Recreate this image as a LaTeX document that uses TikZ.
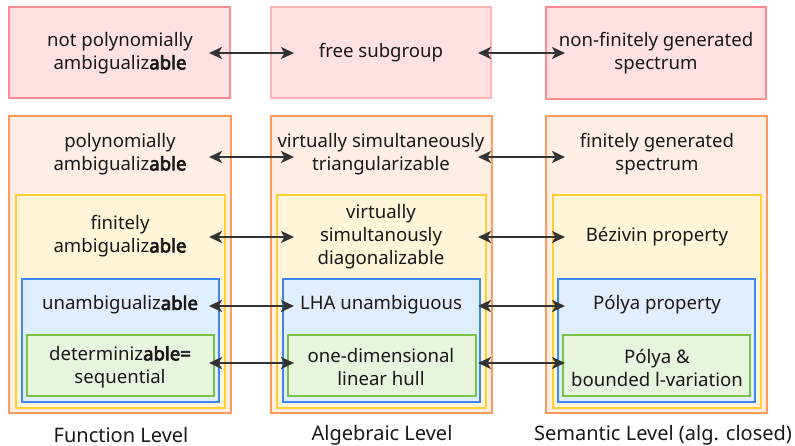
\documentclass[tikz,border=0pt]{standalone}
\usepackage{fontspec}
\setmainfont{Noto Sans}[BoldFont={Noto Sans},BoldFeatures={FakeBold=3.5}]
\usetikzlibrary{arrows.meta,fit}

\definecolor{redline}{HTML}{FF8A8F}
\definecolor{pinkline}{HTML}{FFB3B5}
\definecolor{redfill}{HTML}{FFE1E3}
\definecolor{orangeline}{HTML}{FF9A5C}
\definecolor{orangefill}{HTML}{FFEEE3}
\definecolor{yellowline}{HTML}{FFCF33}
\definecolor{yellowfill}{HTML}{FFF5D8}
\definecolor{blueline}{HTML}{3A87F5}
\definecolor{bluefill}{HTML}{E1EEFD}
\definecolor{greenline}{HTML}{79C447}
\definecolor{greenfill}{HTML}{E7F4DE}
\definecolor{arrowgray}{HTML}{333333}

\begin{document}
\begin{tikzpicture}[x=1pt,y=-1pt,line width=2pt]
    \tikzstyle{region}=[rectangle, inner sep=0pt]
    \tikzstyle{txt}=[align=center, inner sep=0pt, font=\fontsize{18.6}{23}\selectfont, text=black!90]
    \tikzstyle{levellabel}=[inner sep=0pt, font=\fontsize{20}{24}\selectfont, text=black!90]
    \tikzstyle{link}=[{Stealth[length=13pt,width=12pt,inset=3.5pt]}-{Stealth[length=13pt,width=12pt,inset=3.5pt]}, draw=arrowgray, line width=2.4pt]
    \useasboundingbox (0,0) rectangle (795,446);

    % top row
    \node [region, draw=redline, fill=redfill, fit={(9,7) (230,98)}] (fnot) {};
    \node [region, draw=pinkline, fill=redfill, fit={(271,7) (491,98)}] (anot) {};
    \node [region, draw=redline, fill=redfill, fit={(546,7) (766,99)}] (snot) {};

    % nested levels
    \node [region, draw=orangeline, fill=orangefill, fit={(9,116) (231,413)}] (fpoly) {};
    \node [region, draw=orangeline, fill=orangefill, fit={(271,116) (492,413)}] (apoly) {};
    \node [region, draw=orangeline, fill=orangefill, fit={(546,116) (767,413)}] (spoly) {};

    \node [region, draw=yellowline, fill=yellowfill, fit={(16,195) (225,408)}] (ffin) {};
    \node [region, draw=yellowline, fill=yellowfill, fit={(277,195) (486,408)}] (afin) {};
    \node [region, draw=yellowline, fill=yellowfill, fit={(553,195) (761,408)}] (sfin) {};

    \node [region, draw=blueline, fill=bluefill, fit={(22,279) (219,402)}] (funa) {};
    \node [region, draw=blueline, fill=bluefill, fit={(283,279) (480,402)}] (auna) {};
    \node [region, draw=blueline, fill=bluefill, fit={(558,279) (755,402)}] (suna) {};

    \node [region, draw=greenline, fill=greenfill, fit={(27,335) (214,396)}] (fdet) {};
    \node [region, draw=greenline, fill=greenfill, fit={(288,335) (476,396)}] (adet) {};
    \node [region, draw=greenline, fill=greenfill, fit={(563,335) (750,396)}] (sdet) {};

    % texts
    \node [txt] (fnot-t) at (120,53) {not polynomially\\ambigualiz\textbf{able}};
    \node [txt] (anot-t) at (381,53) {free subgroup};
    \node [txt] (snot-t) at (656,53) {non-finitely generated\\spectrum};

    \node [txt] (fpoly-t) at (120,154) {polynomially\\ambigualiz\textbf{able}};
    \node [txt] (apoly-t) at (381,154) {virtually simultaneously\\triangularizable};
    \node [txt] (spoly-t) at (657,154) {finitely generated\\spectrum};

    \node [txt] (ffin-t) at (120,236) {finitely\\ambigualiz\textbf{able}};
    \node [txt] (afin-t) at (381,237) {virtually\\simultanously\\diagonalizable};
    \node [txt] (sfin-t) at (657,237) {Bézivin property};

    \node [txt] (funa-t) at (120,305) {unambigualiz\textbf{able}};
    \node [txt] (auna-t) at (381,305) {LHA unambiguous};
    \node [txt] (suna-t) at (657,305) {Pólya property};

    \node [txt] (fdet-t) at (120,367) {determiniz\textbf{able=}\\sequential};
    \node [txt] (adet-t) at (381,367) {one-dimensional\\linear hull};
    \node [txt] (sdet-t) at (657,368) {Pólya \&\\bounded l-variation};

    \node [levellabel] (flevel) at (121,435) {Function Level};
    \node [levellabel] (alevel) at (382,435) {Algebraic Level};
    \node [levellabel] (slevel) at (663,435) {Semantic Level (alg. closed)};

    % equivalences
    \foreach \r/\y in {not/53,poly/157,fin/237,una/306,det/363}{
        \coordinate (f\r-e) at (209,\y);
        \coordinate (a\r-w) at (294,\y);
        \coordinate (a\r-e) at (478,\y);
        \coordinate (s\r-w) at (565,\y);
        \draw [link] (f\r-e) -- (a\r-w);
        \draw [link] (a\r-e) -- (s\r-w);
    }
\end{tikzpicture}
\end{document}
